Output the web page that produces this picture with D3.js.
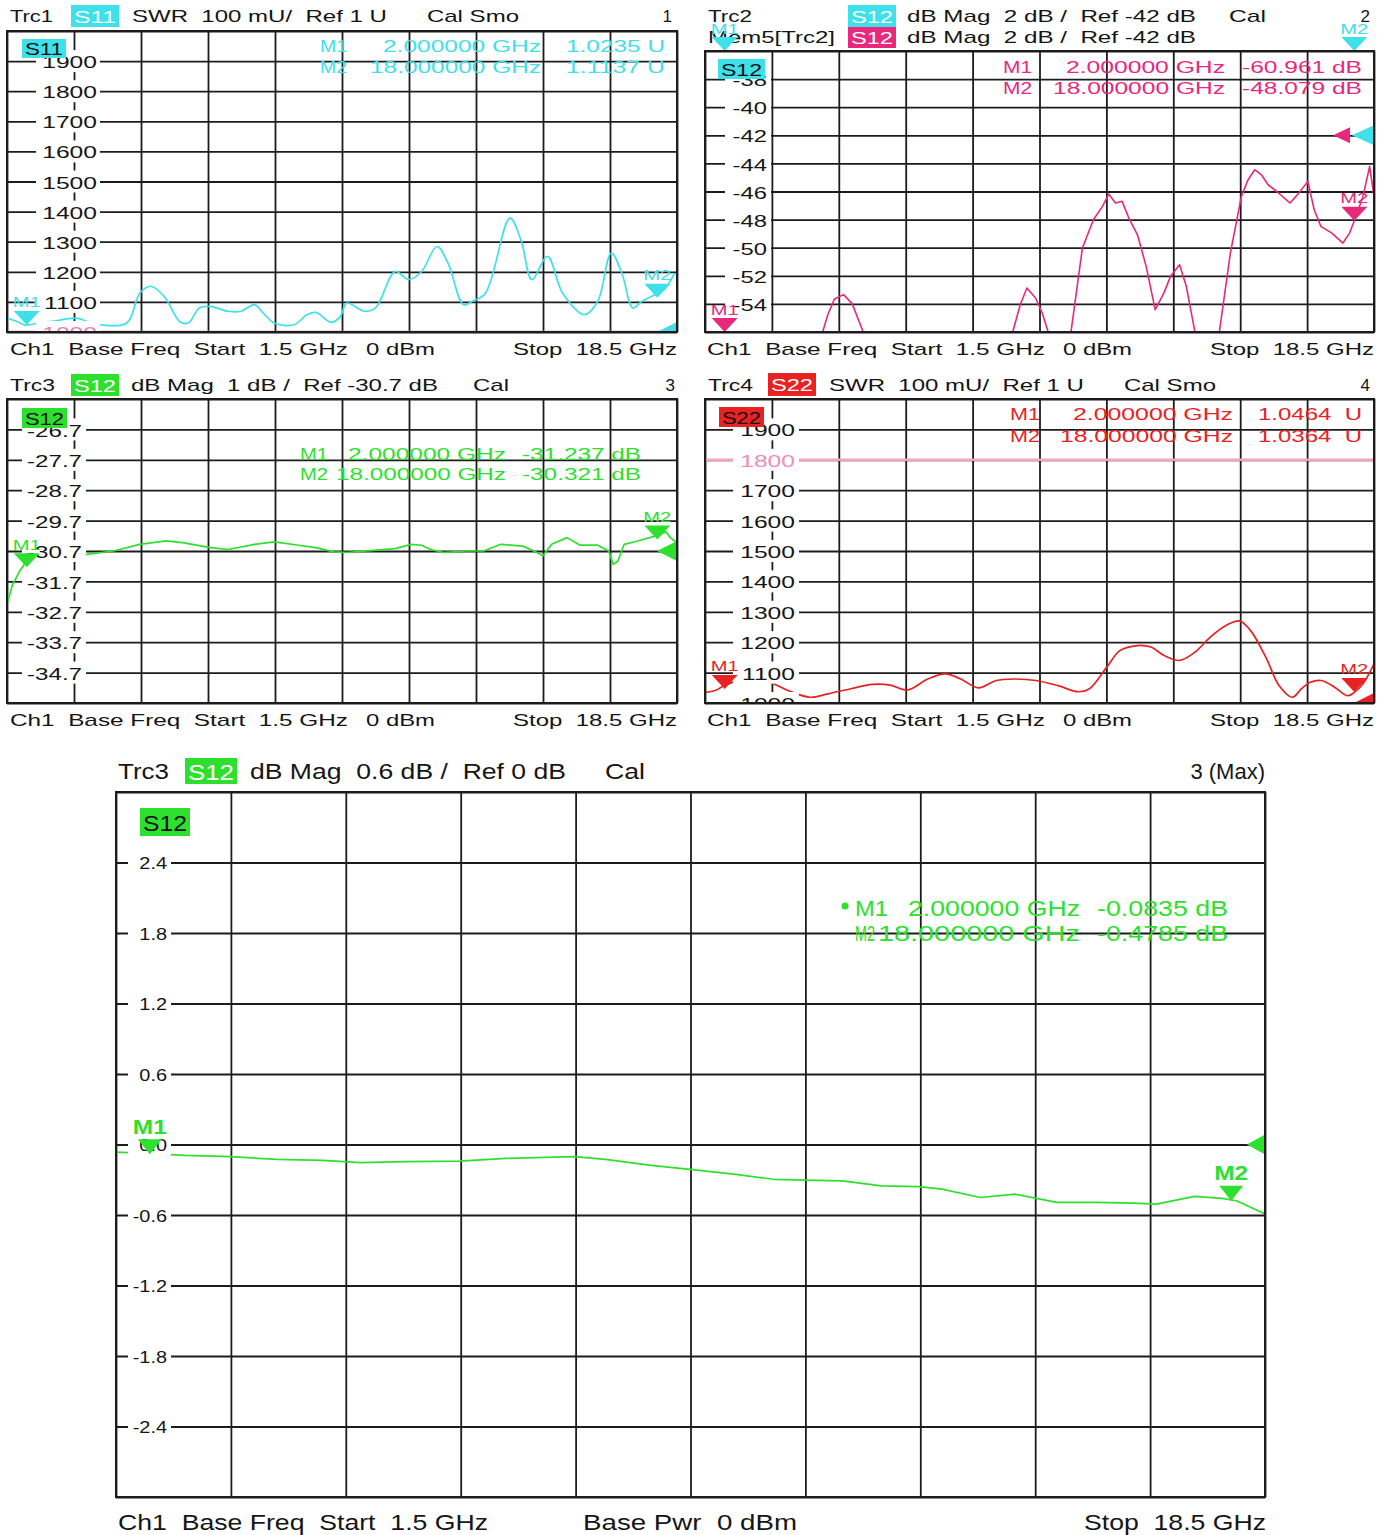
<!DOCTYPE html>
<html>
<head>
<meta charset="utf-8">
<script src="https://cdnjs.cloudflare.com/ajax/libs/d3/7.8.5/d3.min.js"></script>
<style>
body { margin: 0; background: #fff; }
text { font-family: "Liberation Sans", Arial, sans-serif; white-space: pre; }
</style>
</head>
<body>
<div class="chart"></div>
<script>

// frequency sweep 1.5 .. 18.5 GHz, [GHz, value]
var s11Trace = [[1.5,1046],[1.75,1035],[1.97,1023],[2.3,1030],[2.64,1035],[3.25,1046],[3.53,1035],[3.87,1024],
    [4.54,1030],[4.87,1129],[5.15,1152],[5.49,1118],[5.88,1035],[6.1,1030],[6.38,1080],[6.66,1085],[7.11,1069],
    [7.44,1069],[7.78,1091],[8.0,1063],[8.28,1030],[8.78,1024],[9.12,1058],[9.34,1065],[9.73,1032],[9.96,1052],
    [10.12,1096],[10.57,1069],[10.85,1080],[11.35,1201],[11.69,1174],[12.02,1201],[12.41,1284],[12.69,1229],
    [13.08,1091],[13.31,1102],[13.64,1129],[14.26,1378],[14.54,1306],[14.82,1174],[15.21,1251],[15.6,1129],
    [16.16,1058],[16.49,1102],[16.83,1262],[17.1,1196],[17.38,1080],[17.61,1102],[17.94,1124],[18.17,1140],[18.44,1196]];

var s12MemTrace = [[1.5,-59.5],[2.0,-60.96],[3.0,-59.0],[4.0,-57.5],[4.49,-56],[4.62,-54.77],[4.79,-53.65],
    [5.02,-53.34],[5.24,-53.98],[5.52,-56],[6.5,-58.5],[8.5,-58],[9.32,-56],[9.51,-54.06],[9.68,-52.87],[9.9,-53.58],
    [10.07,-54.65],[10.22,-56],[10.5,-57],[10.8,-56],[11.09,-50.02],[11.37,-48.01],[11.6,-47.06],[11.76,-46.18],
    [11.93,-46.82],[12.1,-46.7],[12.27,-47.89],[12.49,-49.08],[12.71,-51.33],[12.94,-54.41],[13.16,-53.23],
    [13.33,-52.04],[13.56,-51.21],[13.73,-52.75],[13.95,-56],[14.25,-57.5],[14.57,-56],[14.85,-50.38],[15.13,-46.35],
    [15.3,-45.16],[15.47,-44.45],[15.64,-44.81],[15.81,-45.52],[16.03,-46.0],[16.37,-46.82],[16.59,-46.11],
    [16.82,-45.28],[16.98,-47.3],[17.15,-48.48],[17.43,-48.96],[17.71,-49.67],[17.88,-48.96],[18.0,-48.08],
    [18.22,-46.35],[18.39,-44.21],[18.5,-46.35]];

var s12Trace = [[1.5,-32.46],[1.63,-31.85],[1.8,-31.41],[1.97,-31.08],[2.19,-30.75],[2.64,-30.7],[2.97,-30.81],
    [3.53,-30.81],[4.2,-30.7],[4.87,-30.48],[5.54,-30.37],[5.99,-30.43],[6.66,-30.59],[7.11,-30.65],[7.78,-30.48],
    [8.28,-30.4],[8.9,-30.51],[9.34,-30.59],[9.79,-30.73],[10.12,-30.75],[10.8,-30.68],[11.35,-30.62],[11.75,-30.48],
    [12.02,-30.51],[12.25,-30.65],[12.58,-30.75],[13.14,-30.7],[13.59,-30.7],[14.03,-30.48],[14.59,-30.54],
    [14.87,-30.7],[15.1,-30.86],[15.32,-30.48],[15.71,-30.26],[16.04,-30.51],[16.49,-30.51],[16.77,-30.7],
    [16.88,-31.14],[17.0,-31.03],[17.16,-30.48],[17.5,-30.37],[17.94,-30.21],[18.22,-30.07],[18.33,-30.26],[18.5,-30.43]];

var s22Trace = [[1.5,1035],[1.76,1041],[1.98,1057],[2.38,1074],[2.83,1079],[3.16,1068],[3.61,1041],[4.17,1019],
    [4.62,1030],[5.18,1046],[5.75,1061],[6.2,1059],[6.65,1043],[7.16,1079],[7.61,1096],[8.0,1079],[8.45,1050],
    [8.9,1074],[9.35,1079],[9.91,1074],[10.47,1057],[10.98,1037],[11.26,1046],[11.71,1118],[12.05,1173],[12.49,1189],
    [12.83,1184],[13.17,1156],[13.56,1140],[13.95,1167],[14.34,1217],[14.74,1255],[15.08,1270],[15.36,1239],
    [15.75,1151],[16.09,1057],[16.43,1019],[16.65,1046],[16.88,1068],[17.16,1074],[17.5,1052],[17.83,1024],
    [18.0,1035],[18.22,1063],[18.5,1129]];

var s12ZoomTrace = [[1.5,-0.065],[1.95,-0.076],[2.52,-0.093],[3.2,-0.104],[3.88,-0.127],[4.56,-0.135],[5.12,-0.155],
    [5.8,-0.146],[6.59,-0.141],[7.27,-0.118],[7.84,-0.11],[8.29,-0.104],[8.74,-0.127],[9.42,-0.177],[9.99,-0.211],
    [10.67,-0.254],[11.23,-0.296],[11.69,-0.304],[12.25,-0.31],[12.82,-0.352],[13.38,-0.358],[13.72,-0.38],
    [14.29,-0.451],[14.8,-0.423],[15.42,-0.493],[15.99,-0.493],[16.55,-0.499],[16.89,-0.507],[17.46,-0.442],
    [17.86,-0.459],[18.08,-0.479],[18.5,-0.592]];

// markers [GHz, value]
var s11Markers = [[2, 1023.5], [18, 1113.7]];
var s12MemMarkers = [[2, -60.961], [18, -48.079]];
var s12Markers = [[2, -31.237], [18, -30.321]];
var s22Markers = [[2, 1046.4], [18, 1036.4]];
var s12ZoomMarkers = [[2, -0.0835], [18, -0.4785]];

// y tick labels
var swrTicks = [1900, 1800, 1700, 1600, 1500, 1400, 1300, 1200, 1100, 1000];
var s12WideTicks = [-38, -40, -42, -44, -46, -48, -50, -52, -54];
var s12NarrowTicks = [-26.7, -27.7, -28.7, -29.7, -30.7, -31.7, -32.7, -33.7, -34.7];
var s12ZoomTicks = [2.4, 1.8, 1.2, 0.6, 0.0, -0.6, -1.2, -1.8, -2.4];

// ________________________________________ drawing ________________________________________

var cyan = '#3ee0ea', pink = '#e8287c', green = '#2ee02e', red = '#e82222';
var gridColor = '#1c1c1c';
var gridFreq = d3.range(11).map(i => 1.5 + i * 1.7);

// plain hyphen for minus signs, like the analyser
var loc = d3.formatLocale({decimal: '.', thousands: ',', grouping: [3], currency: ['', ''], minus: '-'});

var svg = d3.select('.chart').append('svg')
    .attr('width', 1389).attr('height', 1535);

function txt(g, s, x0, x1, y, o) {
    o = o || {};
    var t = g.append('text')
        .attr('x', x0).attr('y', y)
        .attr('dominant-baseline', 'central')
        .attr('font-size', o.size || 17)
        .attr('font-weight', o.weight || 'normal')
        .attr('fill', o.fill || '#151515')
        .text(s);
    if (x1 == null) {
        t.attr('text-anchor', 'end');
    } else {
        t.attr('textLength', x1 - x0).attr('lengthAdjust', 'spacingAndGlyphs');
    }
    return t;
}

function badge(g, b, size) {
    // b = [text, x0, x1, y0, y1, bg, fg]
    g.append('rect').attr('x', b[1]).attr('y', b[3])
        .attr('width', b[2] - b[1]).attr('height', b[4] - b[3]).attr('fill', b[5]);
    txt(g, b[0], b[1] + 3, b[2] - 3, (b[3] + b[4]) / 2 + 1, {fill: b[6], size: size});
}

function drawPanel(p) {
    var b = p.box;
    var g = svg.append('g');
    var x = d3.scaleLinear().domain([1.5, 18.5]).range([b[0], b[2]]);
    var y = d3.scaleLinear().domain(p.yDomain).range([b[3], b[1]]);
    var size = p.size || 17;
    var clipId = 'clip' + p.id;

    svg.append('clipPath').attr('id', clipId).append('rect')
        .attr('x', b[0]).attr('y', b[1]).attr('width', b[2] - b[0]).attr('height', b[3] - b[1]);

    var yGrid = d3.range(11).map(i => p.yDomain[0] + i * (p.yDomain[1] - p.yDomain[0]) / 10);

    g.append('g')
        .attr('transform', `translate(0,${b[3]})`)
        .call(d3.axisBottom(x).tickValues(gridFreq).tickSize(-(b[3] - b[1])).tickFormat(''))
        .call(a => a.select('.domain').remove())
        .selectAll('line').attr('stroke', gridColor).attr('stroke-width', 1.8);

    g.append('g')
        .attr('transform', `translate(${b[0]},0)`)
        .call(d3.axisLeft(y).tickValues(yGrid).tickSize(-(b[2] - b[0])).tickFormat(''))
        .call(a => a.select('.domain').remove())
        .selectAll('line').attr('stroke', gridColor).attr('stroke-width', 1.8);

    var plot = g.append('g').attr('clip-path', `url(#${clipId})`);

    (p.limits || []).forEach(l => {
        plot.append('line')
            .attr('x1', b[0]).attr('x2', b[2]).attr('y1', y(l.v)).attr('y2', y(l.v))
            .attr('stroke', l.color).attr('stroke-width', 2.6);
    });

    p.traces.forEach(t => {
        plot.append('path')
            .datum(t.data)
            .attr('fill', 'none')
            .attr('stroke', t.color)
            .attr('stroke-width', t.width || 1.7)
            .attr('stroke-linejoin', 'round')
            .attr('d', d3.line().x(d => x(d[0])).y(d => y(d[1])).curve(t.curve || d3.curveLinear));
    });

    // y labels on white patches
    var lab = g.append('g').attr('clip-path', `url(#${clipId})`);
    var fmt = p.format || (v => String(v));
    p.ticks.forEach(v => {
        lab.append('rect')
            .attr('x', p.labelBg[0]).attr('width', p.labelBg[1] - p.labelBg[0])
            .attr('y', y(v) - p.labelH / 2).attr('height', p.labelH)
            .attr('fill', '#fff');
        lab.append('text')
            .attr('transform', `translate(${p.labelEnd},${y(v) + 1}) scale(${p.labelSx},1)`)
            .attr('text-anchor', 'end')
            .attr('dominant-baseline', 'central')
            .attr('font-size', p.labelSize || 17)
            .attr('fill', (p.tickColors && p.tickColors[v]) || '#151515')
            .text(fmt(v));
    });

    // reference arrows on the right edge
    (p.refs || []).forEach(r => {
        var tip = b[2] - r.off, yy = y(r.v);
        plot.append('path')
            .attr('d', `M${tip},${yy}L${tip + r.w},${yy - r.h / 2}L${tip + r.w},${yy + r.h / 2}Z`)
            .attr('fill', r.color);
    });

    // header, footer, badges
    p.texts.forEach(t => txt(g, t[0], t[1], t[2], t[3], {size: size}));
    p.badges.forEach(bd => badge(g, bd, size));

    // marker readout table
    var r = p.readout;
    var fFmt = loc.format('.6f'), vFmt = loc.format(r.vFormat);
    r.data.forEach((m, i) => {
        var yy = r.rows[i];
        txt(g, 'M' + (i + 1), r.name[i][0], r.name[i][1], yy, {fill: r.color, size: size});
        txt(g, fFmt(m[0]) + ' GHz', r.freq[i][0], r.freq[i][1], yy, {fill: r.color, size: size});
        txt(g, vFmt(m[1] / (r.scale || 1)) + r.unit, r.value[0], r.value[1], yy, {fill: r.color, size: size});
    });
    if (r.bullet) {
        g.append('circle').attr('cx', r.bullet[0]).attr('cy', r.bullet[1]).attr('r', 3.5).attr('fill', r.color);
    }

    // marker triangles
    p.markers.forEach(mk => {
        var lo = Math.min(p.yDomain[0], p.yDomain[1]), hi = Math.max(p.yDomain[0], p.yDomain[1]);
        mk.data.forEach((m, i) => {
            var mx = x(m[0]), my = y(Math.max(lo, Math.min(hi, m[1])));
            g.append('path')
                .attr('d', `M${mx},${my}L${mx - mk.w / 2},${my - mk.h}L${mx + mk.w / 2},${my - mk.h}Z`)
                .attr('fill', mk.color);
            txt(g, 'M' + (i + 1), mx - mk.lw / 2, mx + mk.lw / 2, my - mk.h - mk.gap,
                {fill: mk.color, size: mk.size, weight: mk.weight});
        });
    });

    g.append('rect')
        .attr('x', b[0]).attr('y', b[1]).attr('width', b[2] - b[0]).attr('height', b[3] - b[1])
        .attr('fill', 'none').attr('stroke', gridColor).attr('stroke-width', 2);
}

var smooth = d3.curveCatmullRom.alpha(0.5);
function foot(x0, y) {
    return [['Ch1  Base Freq  Start  1.5 GHz', x0 + 3, x0 + 341, y],
            ['0 dBm', x0 + 359, x0 + 428, y],
            ['Stop  18.5 GHz', x0 + 506, x0 + 670, y]];
}
var smallMarker = {w: 26, h: 14, gap: 9, lw: 28, size: 15};

// Trc1  S11 SWR
drawPanel({
    id: 1, box: [7, 31, 677, 332], yDomain: [1000, 2000],
    ticks: swrTicks, labelEnd: 97, labelBg: [36, 100], labelH: 22, labelSx: 1.45,
    tickColors: {1000: '#f07ab0'},
    limits: [{v: 1000, color: '#f06aa8'}],
    traces: [{data: s11Trace, color: cyan, curve: smooth}],
    refs: [{v: 1000, off: 20, w: 20, h: 20, color: cyan}],
    texts: [['Trc1', 10, 53, 16], ['SWR  100 mU/  Ref 1 U      Cal Smo', 132, 519, 16], ['1', 672, null, 16]]
        .concat(foot(7, 349)),
    badges: [['S11', 71, 119, 5, 27, cyan, '#fff'], ['S11', 22, 66, 39, 58, cyan, '#111']],
    readout: {data: s11Markers, color: cyan, rows: [46, 67], name: [[320, 347], [320, 347]],
        freq: [[383, 541], [370, 541]], value: [566, 665], vFormat: '.4f', unit: ' U', scale: 1000},
    markers: [Object.assign({data: s11Markers, color: cyan}, smallMarker)]
});

// Trc2  S12 dB Mag with memory trace
drawPanel({
    id: 2, box: [705, 51, 1374, 332], yDomain: [-56, -36],
    ticks: s12WideTicks, labelEnd: 767, labelBg: [725, 771], labelH: 22, labelSx: 1.4,
    traces: [{data: s12MemTrace, color: pink, width: 1.6}],
    refs: [{v: -42, off: 41, w: 17, h: 16, color: pink}, {v: -42, off: 22, w: 22, h: 20, color: cyan}],
    texts: [['Trc2', 708, 752, 16], ['dB Mag  2 dB /  Ref -42 dB', 907, 1196, 16], ['Cal', 1229, 1266, 16],
        ['2', 1370, null, 16], ['Mem5[Trc2]', 708, 835, 37], ['dB Mag  2 dB /  Ref -42 dB', 907, 1196, 37]]
        .concat(foot(704, 349)),
    badges: [['S12', 848, 896, 5, 27, cyan, '#fff'], ['S12', 848, 896, 27, 48, pink, '#fff'],
        ['S12', 718, 765, 59, 79, cyan, '#111']],
    readout: {data: s12MemMarkers, color: pink, rows: [67, 88], name: [[1003, 1032], [1003, 1032]],
        freq: [[1066, 1225], [1053, 1225]], value: [1242, 1362], vFormat: '.3f', unit: ' dB'},
    markers: [Object.assign({data: s12MemMarkers, color: pink}, smallMarker),
              Object.assign({data: s12Markers, color: cyan}, smallMarker)]
});

// Trc3  S12 dB Mag
drawPanel({
    id: 3, box: [7, 399, 677, 703], yDomain: [-35.7, -25.7],
    ticks: s12NarrowTicks, format: loc.format('.1f'), labelEnd: 82, labelBg: [22, 86], labelH: 22, labelSx: 1.42,
    traces: [{data: s12Trace, color: green}],
    refs: [{v: -30.7, off: 20, w: 20, h: 20, color: green}],
    texts: [['Trc3', 10, 55, 385], ['dB Mag  1 dB /  Ref -30.7 dB', 131, 438, 385], ['Cal', 473, 509, 385],
        ['3', 675, null, 385]].concat(foot(7, 720)),
    badges: [['S12', 71, 119, 374, 396, green, '#fff'], ['S12', 22, 67, 408, 428, green, '#111']],
    readout: {data: s12Markers, color: green, rows: [454, 474], name: [[300, 328], [300, 328]],
        freq: [[348, 506], [336, 506]], value: [522, 641], vFormat: '.3f', unit: ' dB'},
    markers: [Object.assign({data: s12Markers, color: green}, smallMarker)]
});

// Trc4  S22 SWR
drawPanel({
    id: 4, box: [705, 399, 1374, 703], yDomain: [1000, 2000],
    ticks: swrTicks, labelEnd: 795, labelBg: [733, 799], labelH: 22, labelSx: 1.45,
    tickColors: {1800: '#f08cb8'},
    limits: [{v: 1800, color: '#f3a2c6'}],
    traces: [{data: s22Trace, color: red, curve: smooth}],
    refs: [{v: 1000, off: 20, w: 20, h: 20, color: red}],
    texts: [['Trc4', 708, 753, 385], ['SWR  100 mU/  Ref 1 U      Cal Smo', 829, 1216, 385], ['4', 1370, null, 385]]
        .concat(foot(704, 720)),
    badges: [['S22', 768, 816, 373, 396, red, '#fff'], ['S22', 719, 764, 407, 427, red, '#111']],
    readout: {data: s22Markers, color: red, rows: [414, 436], name: [[1010, 1040], [1010, 1040]],
        freq: [[1073, 1233], [1060, 1233]], value: [1258, 1362], vFormat: '.4f', unit: '  U', scale: 1000},
    markers: [Object.assign({data: s22Markers, color: red}, smallMarker)]
});

// Trc3 (Max)  S12 zoomed
drawPanel({
    id: 5, box: [116, 792, 1265, 1497], yDomain: [-3, 3], size: 22,
    ticks: s12ZoomTicks, format: loc.format('.1f'), labelEnd: 167, labelBg: [128, 171], labelH: 22,
    labelSx: 1.17, labelSize: 17,
    traces: [{data: s12ZoomTrace, color: green}],
    refs: [{v: 0, off: 18, w: 18, h: 20, color: green}],
    texts: [['Trc3', 118, 169, 771], ['dB Mag  0.6 dB /  Ref 0 dB', 250, 566, 771], ['Cal', 605, 645, 771],
        ['3 (Max)', 1265, null, 771],
        ['Ch1  Base Freq  Start  1.5 GHz', 118, 488, 1522], ['Base Pwr  0 dBm', 583, 797, 1522],
        ['Stop  18.5 GHz', 1084, 1266, 1522]],
    badges: [['S12', 185, 237, 758, 784, green, '#fff'], ['S12', 140, 190, 808, 836, green, '#111']],
    readout: {data: s12ZoomMarkers, color: green, rows: [908, 933], name: [[855, 888], [855, 875]],
        freq: [[908, 1080], [878, 1080]], value: [1097, 1228], vFormat: '.4f', unit: ' dB', bullet: [845, 906]},
    markers: [{data: s12ZoomMarkers, color: green, w: 24, h: 15, gap: 13, lw: 34, size: 21, weight: 'bold'}]
});
</script>
</body>
</html>
